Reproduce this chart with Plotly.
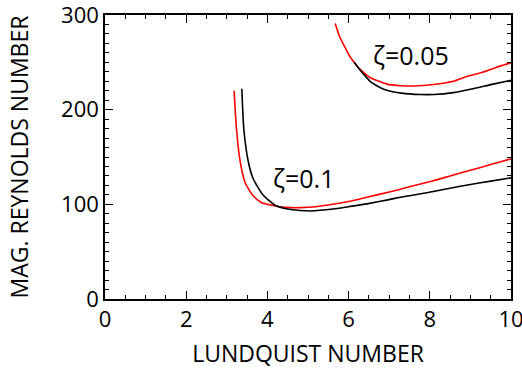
import plotly.graph_objects as go

# zeta = 0.1
z01_red_x = [3.18, 3.24, 3.33, 3.45, 3.65, 3.85, 4.06, 4.30, 4.60, 4.80, 5.20, 5.60, 6.00, 6.45, 7.00, 7.50, 8.09, 8.50, 9.00, 9.50, 10.0]
z01_red_y = [220, 179, 145, 123, 109, 102, 99.5, 97.5, 96.5, 96.5, 97.5, 100, 103, 107.5, 113, 118.5, 125, 130, 136, 142, 148]
z01_blk_x = [3.37, 3.42, 3.53, 3.65, 3.90, 4.19, 4.50, 4.80, 5.05, 5.62, 6.00, 6.45, 7.00, 7.27, 8.09, 8.50, 9.00, 9.50, 10.0]
z01_blk_y = [222, 179, 145, 127, 109.5, 99, 95, 93.5, 93, 95, 97.5, 100.5, 105, 107.5, 113.5, 117, 121, 124.5, 128]

# zeta = 0.05
z005_red_x = [5.67, 5.78, 5.91, 6.02, 6.12, 6.30, 6.53, 6.94, 7.30, 7.60, 8.09, 8.58, 8.91, 9.30, 9.73, 10.0]
z005_red_y = [291, 277, 266, 257, 251, 242, 234, 227, 225.3, 225, 226.5, 230, 235, 239.5, 246, 249.5]
z005_blk_x = [6.14, 6.25, 6.36, 6.53, 6.75, 6.94, 7.30, 7.76, 8.10, 8.58, 9.00, 9.56, 10.0]
z005_blk_y = [250, 243.5, 238, 230, 224, 220.5, 217.5, 216, 216, 218, 221.5, 227, 231]

x_ticks = [0, 2, 4, 6, 8, 10]
y_ticks = [0, 100, 200, 300]
labels = ["\u03b6=0.1", "\u03b6=0.05"]
label_x = [4.1, 6.55]
label_y = [128, 258]

FONT = "Open Sans"

fig = go.Figure()
for xs, ys, c in [(z01_red_x, z01_red_y, "#ff0000"), (z01_blk_x, z01_blk_y, "black"),
                  (z005_red_x, z005_red_y, "#ff0000"), (z005_blk_x, z005_blk_y, "black")]:
    fig.add_trace(go.Scatter(x=xs, y=ys, mode="lines", line=dict(color=c, width=1.6, shape="spline", smoothing=0.6),
                             showlegend=False, hoverinfo="skip"))

for t, lx, ly in zip(labels, label_x, label_y):
    fig.add_annotation(x=lx, y=ly, text=t, showarrow=False, xanchor="left", yanchor="middle",
                       font=dict(family=FONT, size=25, color="black"))

tickfont = dict(family=FONT, size=22, color="black")
axis_common = dict(showline=True, linecolor="black", linewidth=1.5, mirror="ticks", ticks="inside",
                   ticklen=8, tickwidth=1, tickcolor="black", showgrid=False, zeroline=False,
                   ticklabeloverflow="allow", tickfont=tickfont)

fig.update_xaxes(range=[0, 10], tickvals=x_ticks, ticktext=[str(v) for v in x_ticks],
                 automargin="bottom",
                 minor=dict(dtick=0.5, ticks="inside", ticklen=4, tickcolor="black", showgrid=False),
                 title=dict(text="LUNDQUIST NUMBER", font=dict(family=FONT, size=23, color="black"), standoff=14),
                 **axis_common)
fig.update_yaxes(range=[0, 300], tickvals=y_ticks, ticktext=[str(v) for v in y_ticks],
                 automargin="left",
                 minor=dict(dtick=10, ticks="inside", ticklen=4, tickcolor="black", showgrid=False),
                 title=dict(text="MAG. REYNOLDS NUMBER", font=dict(family=FONT, size=23, color="black"), standoff=26),
                 **axis_common)

fig.update_layout(width=522, height=374, margin=dict(l=105, r=11, t=15, b=73),
                  plot_bgcolor="white", paper_bgcolor="white")
fig.write_html("out.html", config={"displayModeBar": False},
               post_script="document.body.style.margin='0';document.body.style.overflow='hidden';")
